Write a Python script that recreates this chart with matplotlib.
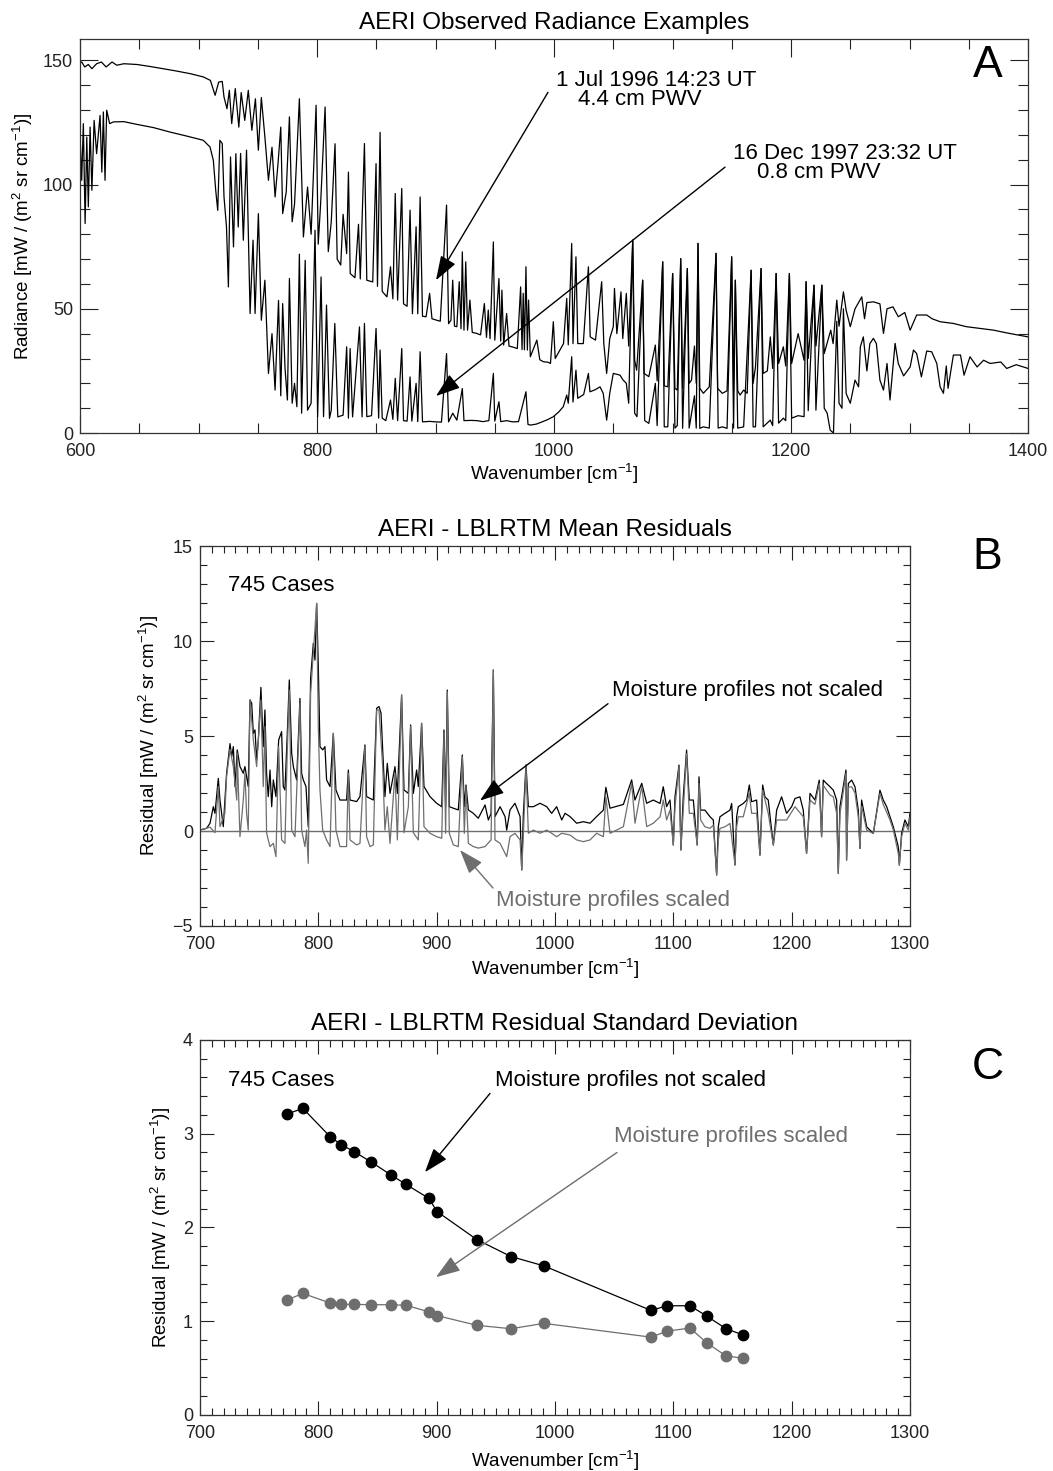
import numpy as np
import matplotlib
matplotlib.use("Agg")
import matplotlib.pyplot as plt
from matplotlib.ticker import MultipleLocator

plt.rcParams['font.family'] = ['Liberation Sans', 'DejaVu Sans']
plt.rcParams['mathtext.fontset'] = 'custom'
plt.rcParams['mathtext.rm'] = 'Liberation Sans'
plt.rcParams['mathtext.it'] = 'Liberation Sans:italic'

# ---- Panel A: observed radiance spectra (wavenumber, radiance) ----
A_HUMID = [
    (600, 149.0), (601.4, 149.3), (604, 147.3), (607, 148.3), (610, 146.6), (614, 148.6),
    (618, 149.3), (622, 147.3), (627, 149.3), (631, 148.0), (637, 148.6), (648, 148.3),
    (659, 147.5), (670, 146.6), (681, 145.7), (693, 144.6), (704, 143.3), (710, 141.9),
    (714, 135.9), (717, 141.2), (720, 141.5), (721.5, 135.2), (724, 130.5), (726, 137.9),
    (728, 124.5), (731, 138.6), (734, 123.1), (736, 137), (739, 125.8), (742, 137.9),
    (745, 121.8), (748, 134.5), (750.5, 113.8), (753, 135), (756, 119.1), (759, 101.7),
    (762, 115), (764.6, 95), (767, 108), (769.4, 123.1), (771, 88.3), (774, 97),
    (776.7, 127.2), (779, 85), (781, 92), (785.1, 134.5), (788.5, 78.9), (792, 99),
    (795, 80), (799.2, 131.9), (801, 76), (803, 92), (806.8, 131.2), (809.5, 73),
    (812, 85), (815.2, 116.4), (817, 70), (820, 67.6), (822, 88), (825, 72.2),
    (826.5, 105), (828, 64.2), (832, 62.5), (835, 84), (836.5, 62), (840, 116.5),
    (842, 61.5), (847, 60.8), (849.8, 108.4), (851, 59), (853.2, 121), (855, 57),
    (859, 54.8), (862, 66.9), (864, 54), (866, 96.4), (868, 53.5), (871.5, 98.4),
    (873, 52), (876, 51), (878.5, 89.7), (880.5, 48), (883.6, 83), (885, 48),
    (887, 95), (889, 47), (892, 46.8), (895, 56.2), (897, 46), (901, 45.4),
    (904, 45), (909.3, 91.7), (911, 44), (913, 45.4), (914.5, 61.5), (916, 43),
    (918, 42.8), (920, 60.9), (921.5, 42), (922.6, 72.9), (924, 41.4), (925.5, 68.9),
    (927, 41.4), (929, 53.5), (931, 40.5), (934.7, 40.1), (938, 39.5), (941.2, 52.1),
    (943, 38.5), (944.5, 49.5), (946, 38), (948.8, 76.9), (950, 37.4), (953.5, 62.2),
    (955, 37), (956, 57.5), (957.5, 35.4), (960, 48.1), (962, 35), (966, 34.5),
    (969, 34), (971.8, 58.8), (973, 33.6), (974, 56.2), (975, 33.5), (976.3, 66.9),
    (977.5, 33.4), (978.5, 53.5), (980, 30.7), (985.5, 37.4), (988, 29.5), (991, 28.7),
    (995, 28.5), (997, 28), (999.4, 44.8), (1001, 30), (1005, 33.4), (1008, 36),
    (1010.7, 54.2), (1012, 35.5), (1014.9, 76.3), (1016, 36), (1018.5, 70.9), (1020, 36),
    (1024.7, 36), (1029, 66.9), (1030.5, 38.7), (1035, 37.4), (1040.2, 60.9), (1042, 36),
    (1044.4, 24), (1047, 38), (1050, 42.8), (1051, 58.2), (1053, 40), (1056.5, 56.8),
    (1058, 38), (1061, 56.2), (1063, 35), (1066.4, 77.6), (1068, 29.4), (1069.7, 25.3),
    (1074.8, 61.5), (1076, 24), (1080, 22.7), (1085.5, 35.4), (1087, 21), (1091.7, 68.9),
    (1093, 19), (1096, 18.6), (1100.1, 64.2), (1102, 18), (1104, 17.3), (1106.9, 70.2),
    (1108.5, 18), (1112.5, 66.2), (1114, 20), (1116, 21.3), (1118.5, 35), (1120, 20),
    (1121.5, 76.3), (1123, 18), (1126, 16), (1131, 18.6), (1136.7, 72.3), (1138, 18),
    (1142, 16), (1146, 17), (1149.9, 70.9), (1151.5, 17), (1153, 61.5), (1155, 17),
    (1157, 15.3), (1160, 17.3), (1163, 16), (1166.3, 65.5), (1168, 20), (1170, 26.6),
    (1174.7, 66.2), (1176.5, 24), (1180, 25), (1182.5, 38.7), (1184.5, 26), (1187.4, 64.2),
    (1189.5, 28), (1193.5, 34.7), (1195.5, 27), (1198.6, 64.2), (1200.5, 28), (1206, 40),
    (1211, 29.3), (1212.7, 60.9), (1214.5, 30), (1219.4, 59.5), (1221, 35), (1226, 59.5),
    (1228, 32), (1233.5, 41.4), (1235.5, 36), (1238.6, 53.5), (1240.5, 43), (1244.2, 56.8),
    (1246.5, 49.4), (1250, 42.8), (1254, 50), (1259.7, 54.8), (1262, 46), (1264, 52.5),
    (1269.5, 52.8), (1275, 52), (1278, 40.1), (1281, 50), (1286, 50.8), (1290.5, 46.8),
    (1296, 48.5), (1300.5, 41.4), (1306, 47.5), (1314.5, 47.5), (1319, 46), (1325.8, 44.8),
    (1337, 44.1), (1348, 42.8), (1359.5, 42.1), (1371, 41.4), (1382, 40.3), (1390, 39.6),
    (1400, 38.7),
]

A_DRY = [
    (600, 120.5), (601.4, 101.7), (602.8, 124.5), (604.3, 84.3), (605.7, 119.1), (607, 91),
    (608.5, 123.1), (610, 97.7), (611.9, 125.8), (614, 112.4), (616.9, 127.8), (618.4, 105),
    (619.7, 129.2), (621.1, 101.7), (622.5, 129.9), (625, 124.5), (628.2, 125.2), (637, 125.3),
    (648, 124.2), (662, 122.9), (676, 121.1), (690, 119.5), (704, 117.8), (709.7, 115.1),
    (712.5, 109.7), (714.5, 97.7), (716.2, 89.6), (718, 117.8), (720, 116.5), (721.5, 95),
    (723.6, 82.9), (725.2, 58.8), (727, 111.1), (729.5, 74.9), (731.5, 112.4), (733.5, 82.9),
    (735.5, 112.5), (737.8, 77.6), (740.5, 113.8), (743.5, 48.1), (746, 77.6), (747.7, 48.1),
    (750.5, 88.3), (753, 45.4), (756, 61.5), (759, 24), (762, 40), (764.6, 17.3),
    (767.5, 53.4), (769.4, 15), (771, 52.1), (773, 26), (775, 13.3), (776.7, 62.2),
    (779, 12), (781, 20), (783, 10.6), (785.1, 72), (787, 8), (790, 69.5),
    (792, 9.2), (795, 12), (798.3, 81.6), (800.5, 6.6), (803.4, 62.8), (805.5, 6.6),
    (808, 51.5), (810.5, 5.9), (812, 9.2), (815, 44.1), (817.5, 6.5), (822, 7.2),
    (825, 34.7), (826.5, 6), (827.9, 34), (830, 6.5), (835.8, 42.7), (838, 6.5),
    (840, 44.1), (842, 6.6), (846, 7), (849.8, 42.1), (852, 6), (853.2, 33.4),
    (855, 6), (858, 5), (862, 13.3), (864, 5.5), (866, 22), (868, 5),
    (871.5, 34), (873, 5), (876, 4.8), (878.5, 22.6), (880, 4.8), (883.6, 20),
    (885, 4.6), (887, 32.7), (889, 4.5), (895, 4.7), (900, 4.5), (905, 4.4),
    (909.3, 32), (911, 4.5), (914.5, 8), (918, 5.2), (922.6, 17.9), (924, 5),
    (930, 5.1), (935, 5), (940, 4.6), (945, 5), (948.8, 24), (950, 4.8),
    (953.5, 12.6), (955, 4.6), (960, 5), (965, 4.5), (970, 4.6), (976.3, 16.6),
    (978, 3.5), (980, 3.2), (985, 3.6), (990, 4.5), (995, 5.5), (999.4, 6.6),
    (1004, 8.5), (1007.8, 10.6), (1010.7, 15.3), (1012, 12), (1014.9, 30.7), (1016, 12.5),
    (1018.5, 25.3), (1020, 14), (1025, 15.5), (1029, 24), (1030.3, 16.6), (1035, 17.5),
    (1038.8, 18.6), (1041.5, 16), (1044.4, 5.2), (1047, 16), (1050, 24), (1055.7, 23.3),
    (1058, 21.5), (1061, 20), (1063, 12), (1066.4, 77.6), (1068, 8), (1070, 6.6),
    (1074.8, 61.5), (1076.5, 5), (1080, 3.9), (1085.5, 20), (1087, 3), (1091.7, 68.9),
    (1093, 2.5), (1096, 2.5), (1100.1, 64.2), (1102, 2), (1104, 3), (1106.9, 70.2),
    (1108.5, 1.9), (1112.5, 66.2), (1114, 2), (1118.5, 15), (1120, 2), (1121.5, 76.3),
    (1123, 1.9), (1126, 2.5), (1131, 2), (1136.7, 72.3), (1138.5, 2), (1142, 2.5),
    (1146, 1.9), (1149.9, 70.9), (1151.5, 2), (1153, 61.5), (1155, 2), (1160, 2.5),
    (1166.3, 65.5), (1168, 2.5), (1170, 2.5), (1174.7, 66.2), (1176.5, 2.5), (1182.5, 5.2),
    (1184.5, 3), (1187.4, 64.2), (1189.5, 4), (1193.5, 6), (1195.5, 5), (1198.6, 64.2),
    (1200.5, 6), (1206, 7), (1211, 6.6), (1212.7, 60.9), (1214.5, 9), (1219.4, 59.5),
    (1221, 9.2), (1226, 59.5), (1228, 10), (1230.5, 8), (1233, 1.2), (1235.8, 0),
    (1238.6, 45), (1240.5, 12), (1243, 10), (1244.2, 50), (1246.5, 15.9), (1250, 12),
    (1254, 21.3), (1257, 18.6), (1258.5, 34.7), (1261, 38.7), (1264, 25), (1266.5, 36),
    (1269.5, 38.1), (1272, 36), (1275, 21.3), (1278, 17.3), (1281, 28), (1283.5, 13.3),
    (1287.8, 36.1), (1290.5, 28), (1295, 23), (1300.5, 26.6), (1303.3, 33.4), (1306, 32),
    (1310, 22.6), (1314.5, 33), (1318.7, 32.7), (1323, 28), (1325.8, 18.6), (1328.6, 16),
    (1331, 27), (1332.5, 18), (1337, 31.4), (1343, 31.4), (1346, 23.3), (1351, 30.7),
    (1357, 26.6), (1362.5, 29.3), (1368, 28), (1377, 28.6), (1382, 26), (1390, 27.5),
    (1400, 26),
]

# ---- Panel B: mean residuals (wavenumber, residual) ----
B_NOT_SCALED = [
    (700, 0.05), (705.6, 0.14), (708.5, 0.41), (711.3, 1.28), (712.7, 0.93), (715.5, 2.77),
    (716.9, 1.63), (719.7, 0.23), (722.5, 3.04), (725.4, 4.6), (726.8, 3.91), (728.2, 4.44),
    (729.6, 2.34), (731.5, 4.27), (733.8, 3.39), (736.6, 3.04), (738, 3.39), (740.8, 2.34),
    (742.3, 6.9), (743.7, 6.72), (745.1, 5.14), (746.5, 5.32), (747.9, 3.74), (749.3, 4.79),
    (751.5, 7.56), (753.5, 4.44), (754.9, 6.37), (756.3, 3.04), (757.7, 1.81), (759.2, 3.21),
    (760.6, 1.28), (762, 2.69), (764.2, 1.81), (766.5, 4.79), (769, 5.23), (770.4, 2.34),
    (771.8, 2.16), (773.8, 5.14), (775.5, 7.95), (777.5, 4.09), (778.9, 3.39), (781.7, 2.69),
    (784.5, 6.98), (785.9, 3.04), (787.3, 2.69), (789.6, 2.34), (791.5, 0.23), (793.5, 8.04),
    (795.8, 9.88), (797.2, 9.0), (798.6, 11.98), (800, 8.65), (801.4, 4.44), (803.7, 4.27),
    (805.6, 4.44), (807, 2.69), (809.9, 2.34), (812.7, 5.14), (814.9, 2.16), (818.3, 1.63),
    (823.9, 1.63), (825.4, 3.21), (826.8, 1.63), (832.4, 1.55), (835.2, 1.81), (839.4, 4.53),
    (840.8, 1.81), (846.5, 1.63), (849.3, 6.46), (851.3, 6.55), (853, 6.2), (854.4, 4.27),
    (856.3, 1.81), (858.3, 3.56), (860.6, 1.98), (864.8, 3.39), (866.8, 1.98), (870.4, 7.16),
    (872.4, 2.16), (876.1, 1.98), (878, 5.58), (880.3, 1.98), (883.1, 3.21), (884.5, 2.34),
    (887.3, 5.67), (889.3, 2.34), (894.4, 1.81), (900, 1.46), (904.3, 1.28), (906.2, 5.32),
    (907.6, 1.28), (909, 7.42), (910.7, 1.28), (914.1, 1.2), (918.3, 1.11), (921.7, 4.0),
    (923.4, 1.28), (924.8, 2.42), (926.8, 1.11), (931, 0.93), (935.2, 0.67), (940.9, 1.37),
    (943.7, 0.58), (946, 0.93), (947.9, 8.48), (949.3, 0.76), (953.6, 1.28), (957.8, 0.76),
    (959.2, 0.05), (962, 1.11), (966.2, 1.46), (970.5, 0.76), (971.9, -2.05), (973.3, 0.93),
    (975.5, 3.48), (977.5, 1.28), (981.7, 1.28), (987.4, 1.46), (993, 1.28), (997.2, 0.93),
    (1001.4, 1.28), (1005.7, 0.58), (1008.5, 0.93), (1012.7, 0.76), (1018.3, 0.41), (1024, 0.49),
    (1029.6, 0.41), (1035.2, 0.76), (1040.9, 1.1), (1043, 2.3), (1046.5, 1.2), (1052.1, 1.3),
    (1057.8, 1.4), (1064.8, 2.69), (1067.6, 1.63), (1073.3, 2.51), (1077.5, 1.46), (1083.1, 1.63),
    (1088.8, 1.45), (1091.5, 2.33), (1094.3, 1.28), (1097.2, 1.63), (1100, -0.74), (1101.4, 1.8),
    (1104.8, 3.47), (1106.4, -1.0), (1108.4, 1.8), (1111.2, 4.26), (1113.5, 1.63), (1116.9, 1.63),
    (1120.2, -0.74), (1121.7, 2.85), (1123.1, 1.1), (1126.7, 1.1), (1131, 0.75), (1133.8, 0.58),
    (1136.6, -2.32), (1138, 0.22), (1139.4, 0.75), (1143.6, 0.93), (1147.9, 1.1), (1149.3, 1.45),
    (1152.1, -1.79), (1153.5, 0.75), (1154.9, 1.28), (1159.1, 1.45), (1162, 1.63), (1164.2, 2.42),
    (1166.2, 1.54), (1170.4, 1.63), (1173.2, -1.27), (1175.5, 2.42), (1177.4, 1.8), (1180.2, 1.63),
    (1184.5, -0.74), (1187.3, 1.1), (1191.5, 1.8), (1195.7, 0.93), (1200, 1.28), (1202.8, 1.71),
    (1207, 1.8), (1209.8, 1.1), (1212.6, -1.18), (1215.5, 1.98), (1219.7, 1.63), (1223.3, 2.68),
    (1225.3, -0.3), (1226.7, 2.68), (1229.5, 2.5), (1232.4, 2.33), (1235.2, 2.15), (1238, 1.63),
    (1239.4, -2.23), (1240.8, 1.28), (1245.9, 3.21), (1246.4, -1.53), (1247.9, 2.5), (1250.7, 2.68),
    (1253.5, 2.33), (1256.3, 1.1), (1257.7, -0.92), (1259.1, 1.63), (1263.4, 0.22), (1269, -0.13),
    (1274.6, 2.15), (1277.4, 1.63), (1280.3, 1.28), (1283.1, 0.75), (1285.9, 0.22), (1290.1, -0.83),
    (1291, -1.79), (1292.9, -0.13), (1295.7, 0.58), (1298.6, 0.22), (1300, 0.93),
]

B_SCALED = [
    (700, 0.05), (708.5, 0.2), (712.7, -0.09), (715.5, 2.34), (716.9, 0.23), (721, 0.9),
    (722.5, 2.86), (725.4, 4.3), (728.2, 3.39), (731.1, 1.63), (731.5, 4.1), (733.8, -0.3),
    (736.6, 1.63), (738, 3.04), (739.4, 0.93), (740.8, 0.05), (742.3, 6.9), (745.1, 4.79),
    (747.9, 3.39), (751.5, 6.9), (753.5, 2.34), (754.9, 5.5), (756.3, -0.09), (757.7, -0.47),
    (759.2, -0.82), (762, -0.65), (764.2, -1.35), (766.5, 4.44), (769, -0.47), (771.8, -0.65),
    (773.8, 4.27), (775.5, 7.42), (777.5, 0.05), (780.3, -0.3), (784.5, 6.72), (785.9, 0.05),
    (788.7, -0.82), (790.1, 0.05), (791.5, -1.7), (793.5, 7.25), (795.8, 9.35), (798.6, 11.98),
    (800, 5.5), (801.4, 2.16), (803.7, 0.05), (807, -0.47), (809.9, -0.82), (812.7, 5.14),
    (814.9, 0.05), (818.3, -0.82), (823.9, -0.82), (825.4, 3.04), (826.8, -0.47), (832.4, -0.73),
    (835.2, -0.65), (839.4, 4.44), (840.8, -0.3), (843.7, -0.82), (846.5, -0.73), (849.3, 6.37),
    (851.3, 6.37), (854.4, 3.39), (856.3, 0.05), (858.3, 1.28), (860.6, -0.65), (864.8, 3.04),
    (866.8, -0.47), (870.4, 7.16), (872.4, -0.09), (876.1, 1.28), (878, 5.5), (880.3, -0.09),
    (884.5, -0.47), (887.3, 5.67), (889.3, 0.23), (894.4, -0.12), (900, -0.3), (904.3, -0.38),
    (906.2, 5.14), (907.6, -0.12), (909, 7.33), (910.7, -0.12), (914.1, -0.73), (918.3, -0.82),
    (921.7, 3.91), (923.4, -0.12), (924.8, 2.34), (926.8, -0.65), (931, -0.82), (935.2, -0.9),
    (940.9, -0.82), (946, -0.47), (947.9, 8.48), (949.3, -0.47), (953.6, -0.65), (959.2, -1.35),
    (962, -0.3), (966.2, -0.12), (970.5, -0.47), (971.9, -2.05), (973.3, -0.12), (975.5, 3.39),
    (977.5, -0.12), (981.7, 0.05), (987.4, -0.12), (993, 0.05), (997.2, -0.12), (1001.4, -0.3),
    (1005.7, -0.12), (1012.7, -0.21), (1018.3, -0.47), (1024, -0.56), (1029.6, -0.47), (1035.2, -0.12),
    (1040.9, -0.3), (1043, 1.8), (1046.5, -0.12), (1052.1, 0.05), (1057.8, 0.23), (1064.8, 2.51),
    (1067.6, 0.41), (1073.3, 2.34), (1077.5, 0.23), (1083.1, 0.41), (1088.8, 0.75), (1091.5, 1.63),
    (1094.3, 0.58), (1097.2, 1.1), (1100, -0.74), (1101.4, 1.28), (1104.8, 3.38), (1106.4, -1.0),
    (1108.4, 1.1), (1111.2, 4.08), (1113.5, 0.93), (1116.9, 0.93), (1120.2, -0.74), (1121.7, 2.5),
    (1123.1, 0.58), (1126.7, 0.22), (1131, 0.14), (1133.8, 0.31), (1136.6, -2.32), (1138, -0.48),
    (1139.4, 0.14), (1143.6, 0.22), (1147.9, 0.4), (1152.1, -1.79), (1153.5, 0.22), (1154.9, 0.75),
    (1159.1, 0.75), (1164.2, 1.98), (1166.2, 0.93), (1170.4, 0.93), (1173.2, -1.27), (1175.5, 2.15),
    (1180.2, 0.93), (1184.5, -0.74), (1187.3, 0.58), (1191.5, 0.58), (1195.7, 0.58), (1202.8, 1.28),
    (1209.8, 0.75), (1212.6, -1.18), (1215.5, 1.63), (1219.7, 1.4), (1223.3, 2.5), (1225.3, -0.3),
    (1226.7, 2.4), (1229.5, 2.15), (1232.4, 1.9), (1235.2, 1.8), (1238, 0.93), (1239.4, -2.23),
    (1240.8, 0.9), (1245.9, 3.03), (1246.4, -1.53), (1247.9, 2.3), (1250.7, 2.33), (1253.5, 2.0),
    (1256.3, 0.75), (1257.7, -0.92), (1259.1, 1.3), (1263.4, 0.05), (1269, -0.13), (1274.6, 1.98),
    (1277.4, 1.4), (1283.1, 0.58), (1285.9, 0.05), (1290.1, -1.18), (1291, -1.79), (1292.9, -0.3),
    (1295.7, 0.4), (1298.6, 0.05), (1300, 0.75),
]

# ---- Panel C: residual standard deviation ----
C_WN = [773.5, 787, 809.9, 819.2, 830.1, 844.5, 861.4, 874.1, 893.5, 900.3,
        934.1, 962.8, 990.7, 1081.1, 1094.7, 1114.1, 1128.5, 1144.5, 1158.9]
C_NOT_SCALED = [3.21, 3.27, 2.97, 2.885, 2.81, 2.70, 2.56, 2.46, 2.31, 2.17,
                1.87, 1.69, 1.59, 1.115, 1.165, 1.165, 1.053, 0.92, 0.854]
C_SCALED = [1.227, 1.296, 1.195, 1.18, 1.18, 1.176, 1.176, 1.17, 1.10, 1.06,
            0.956, 0.92, 0.977, 0.83, 0.894, 0.927, 0.767, 0.63, 0.605]

GRAY = "#6e6e6e"
UNITS = r"[mW / (m$^2$ sr cm$^{-1}$)]"
XLABEL = r"Wavenumber [cm$^{-1}$]"


def style_axes(ax, xmaj, xmin, ymaj, ymin, lmaj, lmin):
    ax.xaxis.set_major_locator(MultipleLocator(xmaj))
    ax.xaxis.set_minor_locator(MultipleLocator(xmin))
    ax.yaxis.set_major_locator(MultipleLocator(ymaj))
    ax.yaxis.set_minor_locator(MultipleLocator(ymin))
    ax.tick_params(which="both", direction="in", top=True, right=True,
                   width=0.8, labelsize=13, colors="#222222")
    ax.tick_params(which="major", length=lmaj)
    ax.tick_params(which="minor", length=lmin)
    ax.tick_params(axis="x", pad=7)
    ax.tick_params(axis="y", pad=5)
    for s in ax.spines.values():
        s.set_linewidth(0.9)
        s.set_color("#333333")


def arrow(ax, head, tail, color):
    ax.annotate("", xy=head, xytext=tail,
                arrowprops=dict(arrowstyle="-|>,head_length=1.0,head_width=0.35",
                                mutation_scale=15, color=color, lw=1.0,
                                shrinkA=0, shrinkB=0))


fig = plt.figure(figsize=(10.53, 14.71), dpi=100)

# ---------------- Panel A ----------------
axA = fig.add_axes([0.0760, 0.7056, 0.9003, 0.2678])
hw, hr = zip(*A_HUMID)
dw, dr = zip(*A_DRY)
axA.plot(hw, hr, color="black", lw=0.9)
axA.plot(dw, dr, color="black", lw=0.9)
axA.set_xlim(600, 1400)
axA.set_ylim(0, 158.5)
style_axes(axA, 200, 50, 50, 10, 13, 7)
axA.set_title("AERI Observed Radiance Examples", fontsize=17.5, pad=7)
axA.set_xlabel(XLABEL, fontsize=13.5)
axA.set_ylabel("Radiance " + UNITS, fontsize=13.5)
axA.xaxis.set_label_coords(0.5, -0.072)
axA.yaxis.set_label_coords(-0.048, 0.5)
axA.text(1001.7, 141.9, "1 Jul 1996 14:23 UT", fontsize=16, va="center")
axA.text(1020.3, 134.2, "4.4 cm PWV", fontsize=16, va="center")
axA.text(1151, 112.6, "16 Dec 1997 23:32 UT", fontsize=16, va="center")
axA.text(1171.3, 104.9, "0.8 cm PWV", fontsize=16, va="center")
arrow(axA, (900.4, 61.5), (994.9, 137.1), "black")
arrow(axA, (900.4, 14.9), (1144.3, 107.0), "black")

# ---------------- Panel B ----------------
axB = fig.add_axes([0.1899, 0.3705, 0.6743, 0.2583])
nw, nv = zip(*B_NOT_SCALED)
sw, sv = zip(*B_SCALED)
axB.axhline(0, color=GRAY, lw=1.0)
axB.plot(nw, nv, color="black", lw=0.9)
axB.plot(sw, sv, color=GRAY, lw=0.9)
axB.set_xlim(700, 1300)
axB.set_ylim(-5, 15)
style_axes(axB, 100, 10, 5, 1, 10, 5)
axB.set_title("AERI - LBLRTM Mean Residuals", fontsize=17.5, pad=7)
axB.set_xlabel(XLABEL, fontsize=13.5)
axB.set_ylabel("Residual " + UNITS, fontsize=13.5)
axB.xaxis.set_label_coords(0.5, -0.082)
axB.yaxis.set_label_coords(-0.055, 0.5)
axB.text(723.7, 12.9, "745 Cases", fontsize=16, va="center")
axB.text(1048.2, 7.37, "Moisture profiles not scaled", fontsize=16, va="center")
axB.text(950.1, -3.68, "Moisture profiles scaled", fontsize=16, va="center", color=GRAY)
arrow(axB, (936.6, 1.6), (1044.8, 6.7), "black")
arrow(axB, (919.7, -1.0), (947.6, -3.0), GRAY)

# ---------------- Panel C ----------------
axC = fig.add_axes([0.1899, 0.0381, 0.6743, 0.2549])
axC.plot(C_WN, C_NOT_SCALED, color="black", lw=0.9, marker="o", ms=7.5)
axC.plot(C_WN, C_SCALED, color=GRAY, lw=0.9, marker="o", ms=7.5)
axC.set_xlim(700, 1300)
axC.set_ylim(0, 4)
style_axes(axC, 100, 10, 1, 0.2, 10, 5)
axC.set_title("AERI - LBLRTM Residual Standard Deviation", fontsize=17.5, pad=7)
axC.set_xlabel(XLABEL, fontsize=13.5)
axC.set_ylabel("Residual " + UNITS, fontsize=13.5)
axC.xaxis.set_label_coords(0.5, -0.09)
axC.yaxis.set_label_coords(-0.038, 0.5)
axC.text(723.7, 3.57, "745 Cases", fontsize=16, va="center")
axC.text(949.3, 3.57, "Moisture profiles not scaled", fontsize=16, va="center")
axC.text(1049.9, 2.97, "Moisture profiles scaled", fontsize=16, va="center", color=GRAY)
arrow(axC, (890.1, 2.59), (945.1, 3.43), "black")
arrow(axC, (899.4, 1.47), (1052.4, 2.8), GRAY)

# panel letters
fig.text(0.938, 0.9558, "A", fontsize=32, ha="center", va="center")
fig.text(0.938, 0.6213, "B", fontsize=32, ha="center", va="center")
fig.text(0.938, 0.2740, "C", fontsize=32, ha="center", va="center")

fig.savefig("out.png", dpi=100)
